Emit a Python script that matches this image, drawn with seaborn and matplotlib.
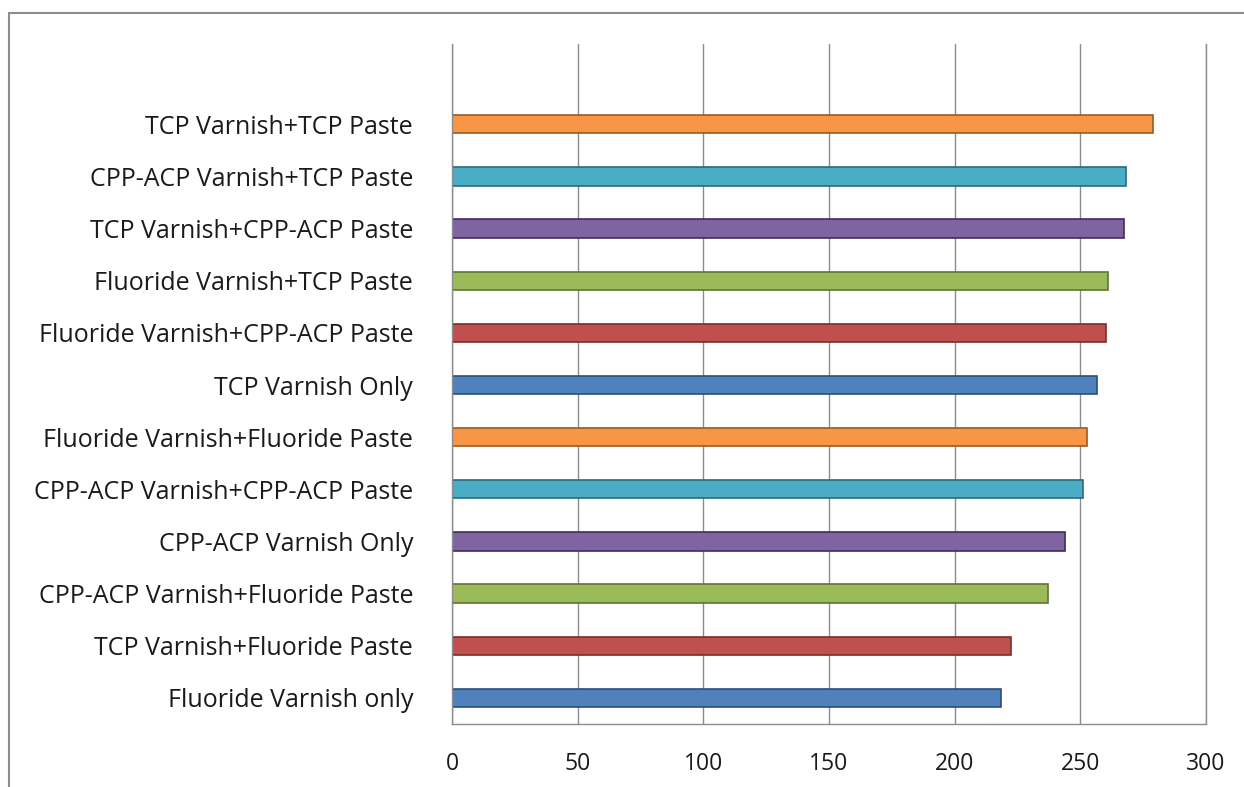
import pandas as pd
import matplotlib.pyplot as plt
import matplotlib.patches as mpatches
import seaborn as sns

# Data (top to bottom as shown)
treatments = [
    "TCP Varnish+TCP Paste",
    "CPP-ACP Varnish+TCP Paste",
    "TCP Varnish+CPP-ACP Paste",
    "Fluoride Varnish+TCP Paste",
    "Fluoride Varnish+CPP-ACP Paste",
    "TCP Varnish Only",
    "Fluoride Varnish+Fluoride Paste",
    "CPP-ACP Varnish+CPP-ACP Paste",
    "CPP-ACP Varnish Only",
    "CPP-ACP Varnish+Fluoride Paste",
    "TCP Varnish+Fluoride Paste",
    "Fluoride Varnish only",
]
values = [279, 268, 267.5, 261, 260, 256.5, 252.5, 251, 244, 237, 222.5, 218.5]
bar_colors = ["#F79646", "#4BACC6", "#8064A2", "#9BBB59", "#C0504D", "#4F81BD",
              "#F79646", "#4BACC6", "#8064A2", "#9BBB59", "#C0504D", "#4F81BD"]
edge_colors = ["#9A5A22", "#2A6B7C", "#3F2F5A", "#5E7533", "#7A2E2C", "#2C4F7A",
               "#9A5A22", "#2A6B7C", "#3F2F5A", "#5E7533", "#7A2E2C", "#2C4F7A"]

df = pd.DataFrame({"treatment": treatments, "value": values})

sns.set_style("white")
plt.rcParams["font.family"] = ["Open Sans", "DejaVu Sans"]

fig = plt.figure(figsize=(12.44, 7.87), dpi=100)
ax = fig.add_axes([0.3633, 0.0801, 0.9695 - 0.3633, 0.9441 - 0.0801])

sns.barplot(data=df, x="value", y="treatment", hue="treatment", palette=bar_colors,
            legend=False, width=0.35, ax=ax, orient="h", saturation=1)
for patch, ec in zip(ax.patches, edge_colors):
    patch.set_edgecolor(ec)
    patch.set_linewidth(1.2)

ax.set_xlim(0, 300)
ax.set_ylim(11.5, -1.54)
ax.set_xticks([0, 50, 100, 150, 200, 250, 300])
ax.xaxis.grid(True, color="#8C8C8C", linewidth=1)
ax.set_axisbelow(True)
ax.set_xlabel("")
ax.set_ylabel("")
ax.tick_params(axis="both", length=0, colors="#1A1A1A")
ax.tick_params(axis="y", pad=28, labelsize=18)
ax.tick_params(axis="x", pad=20, labelsize=16.5)
ax.spines["top"].set_visible(False)
for side in ["left", "bottom", "right"]:
    ax.spines[side].set_color("#8C8C8C")
    ax.spines[side].set_linewidth(1)

# outer chart border
fig.patches.append(mpatches.Rectangle((9 / 1244, -0.05), 1.1, 1 - 13 / 787 + 0.05,
                                      transform=fig.transFigure, fill=False,
                                      edgecolor="#8C8C8C", linewidth=1.5))

fig.savefig("out.png", dpi=100)
